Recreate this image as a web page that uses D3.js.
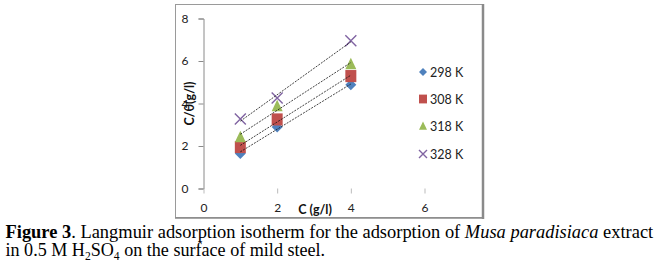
<!DOCTYPE html>
<html>
<head>
<meta charset="utf-8">
<script src="https://cdn.jsdelivr.net/npm/d3@7"></script>
<style>
  html, body { margin: 0; padding: 0; background: #fff; }
  svg { display: block; }
</style>
</head>
<body>
<svg id="chart" width="663" height="265"></svg>
<script>
// ---- data ----
const concentrations = [1, 2, 4];
const seriesNames = ["298 K", "308 K", "318 K", "328 K"];
const values298 = [1.65, 2.9, 4.88];
const values308 = [1.95, 3.25, 5.29];
const values318 = [2.42, 3.88, 5.86];
const values328 = [3.27, 4.26, 6.95];
const xTicks = [0, 2, 4, 6];
const yTicks = [0, 2, 4, 6, 8];
const seriesColors = ["#4F81BD", "#C0504D", "#9BBB59", "#8064A2"];
const seriesShapes = ["diamond", "square", "triangle", "cross"];

const allSeries = [values298, values308, values318, values328].map((vals, i) => ({
  name: seriesNames[i], color: seriesColors[i], shape: seriesShapes[i],
  points: concentrations.map((c, j) => ({ x: c, y: vals[j] }))
}));

const svg = d3.select("#chart");

// outer chart frame
svg.append("rect").attr("x", 175.5).attr("y", 4.5).attr("width", 307).attr("height", 213)
  .attr("fill", "#fff").attr("stroke", "#9a9a9a").attr("stroke-width", 1);
svg.append("line").attr("x1", 483).attr("x2", 483).attr("y1", 4).attr("y2", 219)
  .attr("stroke", "#8a8a8a").attr("stroke-width", 2.5);
svg.append("line").attr("x1", 175).attr("x2", 484).attr("y1", 218).attr("y2", 218)
  .attr("stroke", "#8a8a8a").attr("stroke-width", 1.5);

const x = d3.scaleLinear().domain([0, 6]).range([203.5, 424.5]);
const y = d3.scaleLinear().domain([0, 8]).range([188.5, 18.5]);

const tickFont = "Lato, 'Open Sans', sans-serif";

// y axis
const yAxis = svg.append("g").attr("transform", `translate(${x(0)},0)`)
  .call(d3.axisLeft(y).tickValues(yTicks).tickFormat(d3.format("d")).tickSize(5).tickPadding(10));
yAxis.select(".domain").attr("stroke", "#8a8a8a");
yAxis.selectAll(".tick line").attr("stroke", "#8a8a8a");
yAxis.selectAll(".tick text").attr("font-family", tickFont).attr("font-size", 12).attr("fill", "#222");

// x axis (ticks only, no visible baseline)
const xAxis = svg.append("g").attr("transform", `translate(0,${y(0)})`)
  .call(d3.axisBottom(x).tickValues(xTicks).tickFormat(d3.format("d")).tickSize(5).tickPadding(10));
xAxis.select(".domain").remove();
xAxis.selectAll(".tick line").attr("stroke", "#bbbbbb");
xAxis.selectAll(".tick text").attr("font-family", tickFont).attr("font-size", 12).attr("fill", "#222");

// axis titles
svg.append("text").attr("x", 315).attr("y", 214).attr("text-anchor", "middle")
  .attr("font-family", tickFont).attr("font-weight", "bold").attr("font-size", 12.5).attr("fill", "#111")
  .text("C (g/l)");
svg.append("text").attr("transform", `translate(194,${y(4)}) rotate(-90)`).attr("text-anchor", "middle")
  .attr("font-family", tickFont).attr("font-weight", "bold").attr("font-size", 12.5).attr("fill", "#111")
  .text("C/θ(g/l)");

// marker paths
function markerPath(shape, s) {
  const h = s / 2;
  if (shape === "diamond") return `M0,${-h}L${h},0L0,${h}L${-h},0Z`;
  if (shape === "square") return `M${-h},${-h * 1.1}H${h}V${h * 1.1}H${-h}Z`;
  if (shape === "triangle") return `M0,${-h * 1.15}L${h},${h * 0.95}L${-h},${h * 0.95}Z`;
  return `M${-h},${-h}L${h},${h}M${h},${-h}L${-h},${h}`;
}
function drawMarker(g, shape, color, cx, cy, s) {
  const p = g.append("path").attr("transform", `translate(${cx},${cy})`).attr("d", markerPath(shape, s));
  if (shape === "cross") p.attr("fill", "none").attr("stroke", color).attr("stroke-width", 1.4);
  else p.attr("fill", color).attr("stroke", "none");
}

// markers
const markG = svg.append("g");
allSeries.forEach(s => {
  s.points.forEach(p => drawMarker(markG, s.shape, s.color, x(p.x), y(p.y), 11));
});

// linear trendlines (least squares from the data)
const trendG = svg.append("g");
allSeries.forEach(s => {
  const mx = d3.mean(s.points, d => d.x), my = d3.mean(s.points, d => d.y);
  const sxy = d3.sum(s.points, d => (d.x - mx) * (d.y - my));
  const sxx = d3.sum(s.points, d => (d.x - mx) ** 2);
  const b = sxy / sxx, a = my - b * mx;
  const [x0, x1] = d3.extent(s.points, d => d.x);
  trendG.append("line")
    .attr("x1", x(x0)).attr("y1", y(a + b * x0))
    .attr("x2", x(x1)).attr("y2", y(a + b * x1))
    .attr("stroke", "#111").attr("stroke-width", 0.8).attr("stroke-dasharray", "2,1.2");
});

// legend
const legend = svg.append("g");
const legendY = [72, 99, 126, 154];
allSeries.forEach((s, i) => {
  drawMarker(legend, s.shape, s.color, 423, legendY[i], 8);
  legend.append("text").attr("x", 430).attr("y", legendY[i] + 4.5)
    .attr("font-family", tickFont).attr("font-size", 12.5).attr("fill", "#222").text(s.name);
});

// caption (horizontally condensed like the reference)
const capFont = "'Liberation Serif', 'Times New Roman', serif";
function fitWidth(textSel, left, width) {
  const w = textSel.node().getComputedTextLength();
  const k = width / w;
  textSel.attr("transform", `translate(${left},0) scale(${k},1)`);
}
const l1 = svg.append("text").attr("x", 0).attr("y", 238)
  .attr("font-family", capFont).attr("font-size", 19.5).attr("fill", "#000");
l1.append("tspan").attr("font-weight", "bold").text("Figure 3");
l1.append("tspan").text(".  Langmuir adsorption isotherm for the adsorption of ");
l1.append("tspan").attr("font-style", "italic").text("Musa paradisiaca");
l1.append("tspan").text(" extract");
fitWidth(l1, 5.5, 648);

const l2 = svg.append("text").attr("x", 0).attr("y", 256)
  .attr("font-family", capFont).attr("font-size", 19.5).attr("fill", "#000");
l2.append("tspan").text("in 0.5 M H");
l2.append("tspan").attr("font-size", 12.5).attr("dy", 4).text("2");
l2.append("tspan").attr("dy", -4).text("SO");
l2.append("tspan").attr("font-size", 12.5).attr("dy", 4).text("4");
l2.append("tspan").attr("dy", -4).text(" on the surface of mild steel.");
fitWidth(l2, 5.5, 320);
</script>
</body>
</html>
